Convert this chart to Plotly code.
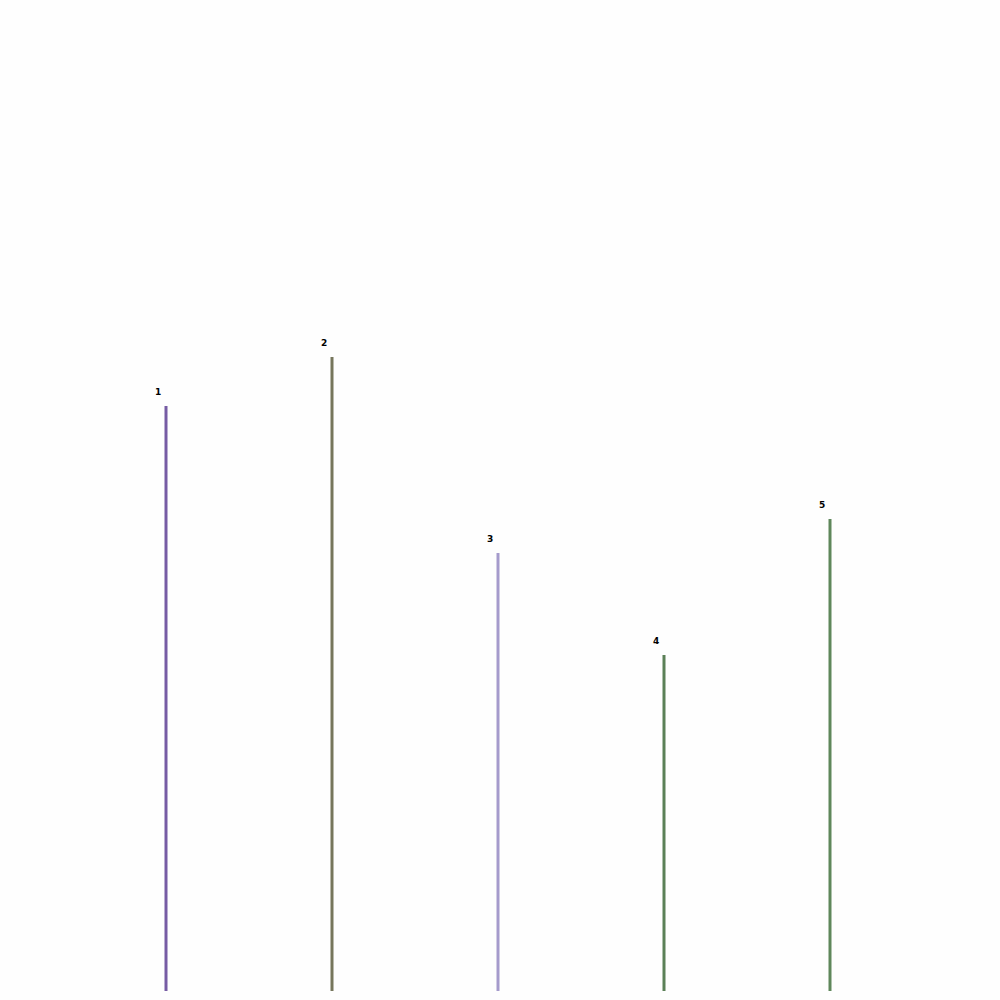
import plotly.graph_objects as go

categories = ["1", "2", "3", "4", "5"]
values = [58.5, 63.4, 43.8, 33.6, 47.2]
colors = ["#765ca4", "#76765c", "#a59bcc", "#5b8057", "#5f875b"]

fig = go.Figure()
for i, (c, v, col) in enumerate(zip(categories, values, colors)):
    fig.add_trace(go.Scatter(
        x=[i, i], y=[0, v], mode="lines",
        line=dict(color=col, width=3),
        hoverinfo="skip", showlegend=False,
    ))
    fig.add_annotation(
        x=i, y=v, text=c, showarrow=False,
        xshift=-8, yshift=14,
        font=dict(family="DejaVu Sans", size=9, color="#000000", weight="bold"),
    )

fig.update_layout(
    width=1000, height=1000,
    margin=dict(l=0, r=4, t=0, b=9),
    paper_bgcolor="#fefefe", plot_bgcolor="#fefefe",
    xaxis=dict(range=[-1, 5], visible=False, fixedrange=True),
    yaxis=dict(range=[0, 99.1], visible=False, fixedrange=True),
)

fig.write_html("out.html", config={"displayModeBar": False})
